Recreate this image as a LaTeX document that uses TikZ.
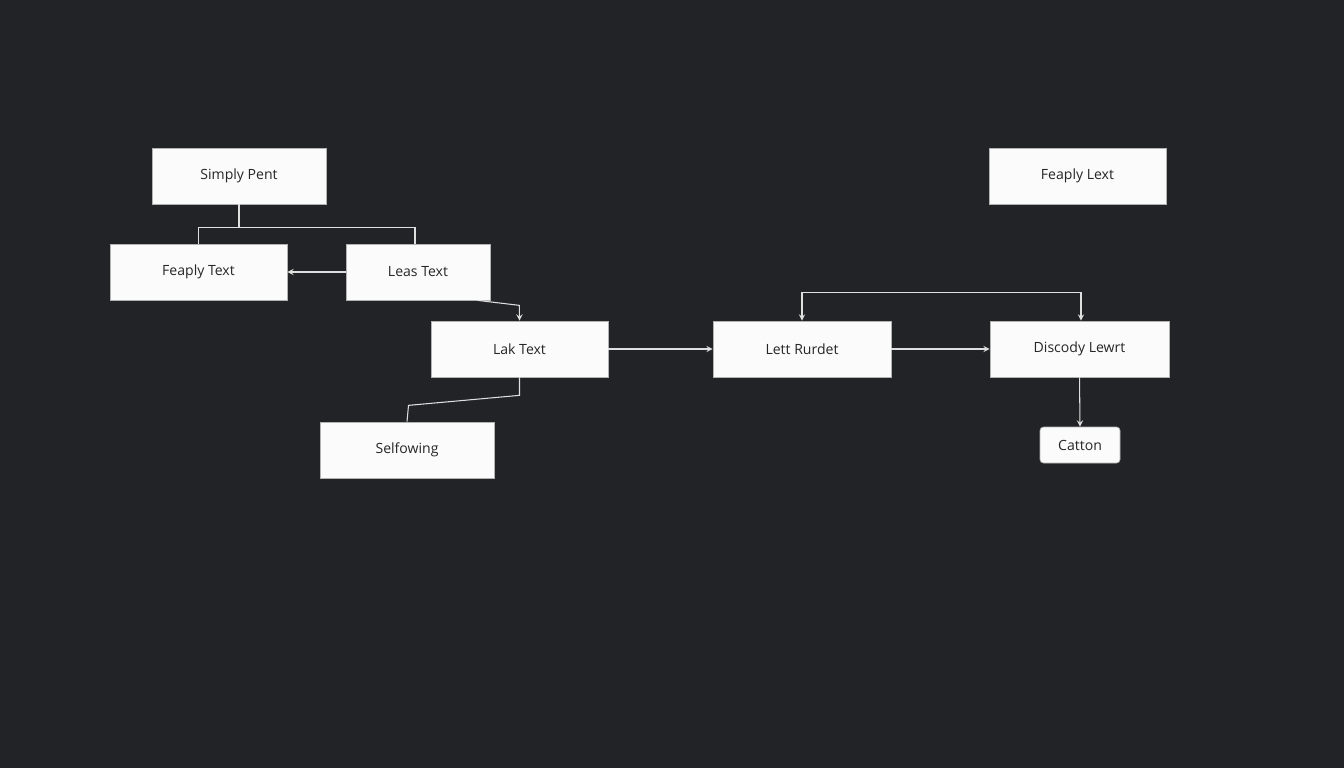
\documentclass[tikz,border=0pt]{standalone}
\usepackage{fontspec}
\setmainfont{Open Sans}
\usetikzlibrary{arrows, positioning}
\definecolor{bgDark}{HTML}{222327}
\definecolor{boxFill}{HTML}{FBFBFB}
\begin{document}
\begin{tikzpicture}[x=0.02cm, y=-0.02cm]
			\tikzstyle{Box} = [rectangle, minimum height=1.12cm, text centered, draw=gray!60, fill=boxFill, font=\fontsize{8}{10}\selectfont, text=black!85]
			\tikzstyle{line} = [draw=gray!25, line width=0.6pt]
			\tikzstyle{arrow} = [line, ->, >=stealth]
			
			\fill[bgDark] (0,0) rectangle (1344,768);
			\useasboundingbox (0,0) rectangle (1344,768);
			
			\node (simplyPent) [Box, minimum width=3.48cm] at (239,176) {Simply Pent};
			\node (feaplyText) [Box, minimum width=3.54cm] at (198.5,272) {Feaply Text};
			\node (leasText) [Box, minimum width=2.88cm] at (418,272) {Leas Text};
			\node (lakText) [Box, minimum width=3.54cm] at (519.5,349) {Lak Text};
			\node (selfowing) [Box, minimum width=3.48cm] at (407,450) {Selfowing};
			\node (lettRurdet) [Box, minimum width=3.56cm] at (802,349) {Lett Rurdet};
			\node (discodyLewrt) [Box, minimum width=3.58cm] at (1079.5,349) {Discody Lewrt};
			\node (feaplyLext) [Box, minimum width=3.54cm] at (1077.5,176) {Feaply Lext};
			\node (catton) [Box, minimum width=1.6cm, minimum height=0.72cm, rounded corners=2pt] at (1080,445) {Catton};
			
			\draw[line] (simplyPent.south) -- ++(0,23) -| (feaplyText.north);
			\draw[line] (simplyPent.south) -- ++(0,23) -| ([xshift=-0.06cm]leasText.north);
			\draw[arrow] (leasText.west) -- (feaplyText.east);
			\draw[arrow] ([xshift=-0.26cm]leasText.south east) -- ++(42,5) -- (lakText.north);
			\draw[line] (lakText.south) -- ++(0,18) -- ++(-111,10) -- (selfowing.north);
			\draw[arrow] (lakText.east) -- (lettRurdet.west);
			\draw[arrow] (lettRurdet.east) -- (discodyLewrt.west);
			\draw[arrow, <->] (lettRurdet.north) -- ++(0,-28) -| ([xshift=0.03cm]discodyLewrt.north);
			\draw[arrow] (discodyLewrt.south) -- (catton.north);
		\end{tikzpicture}
\end{document}
